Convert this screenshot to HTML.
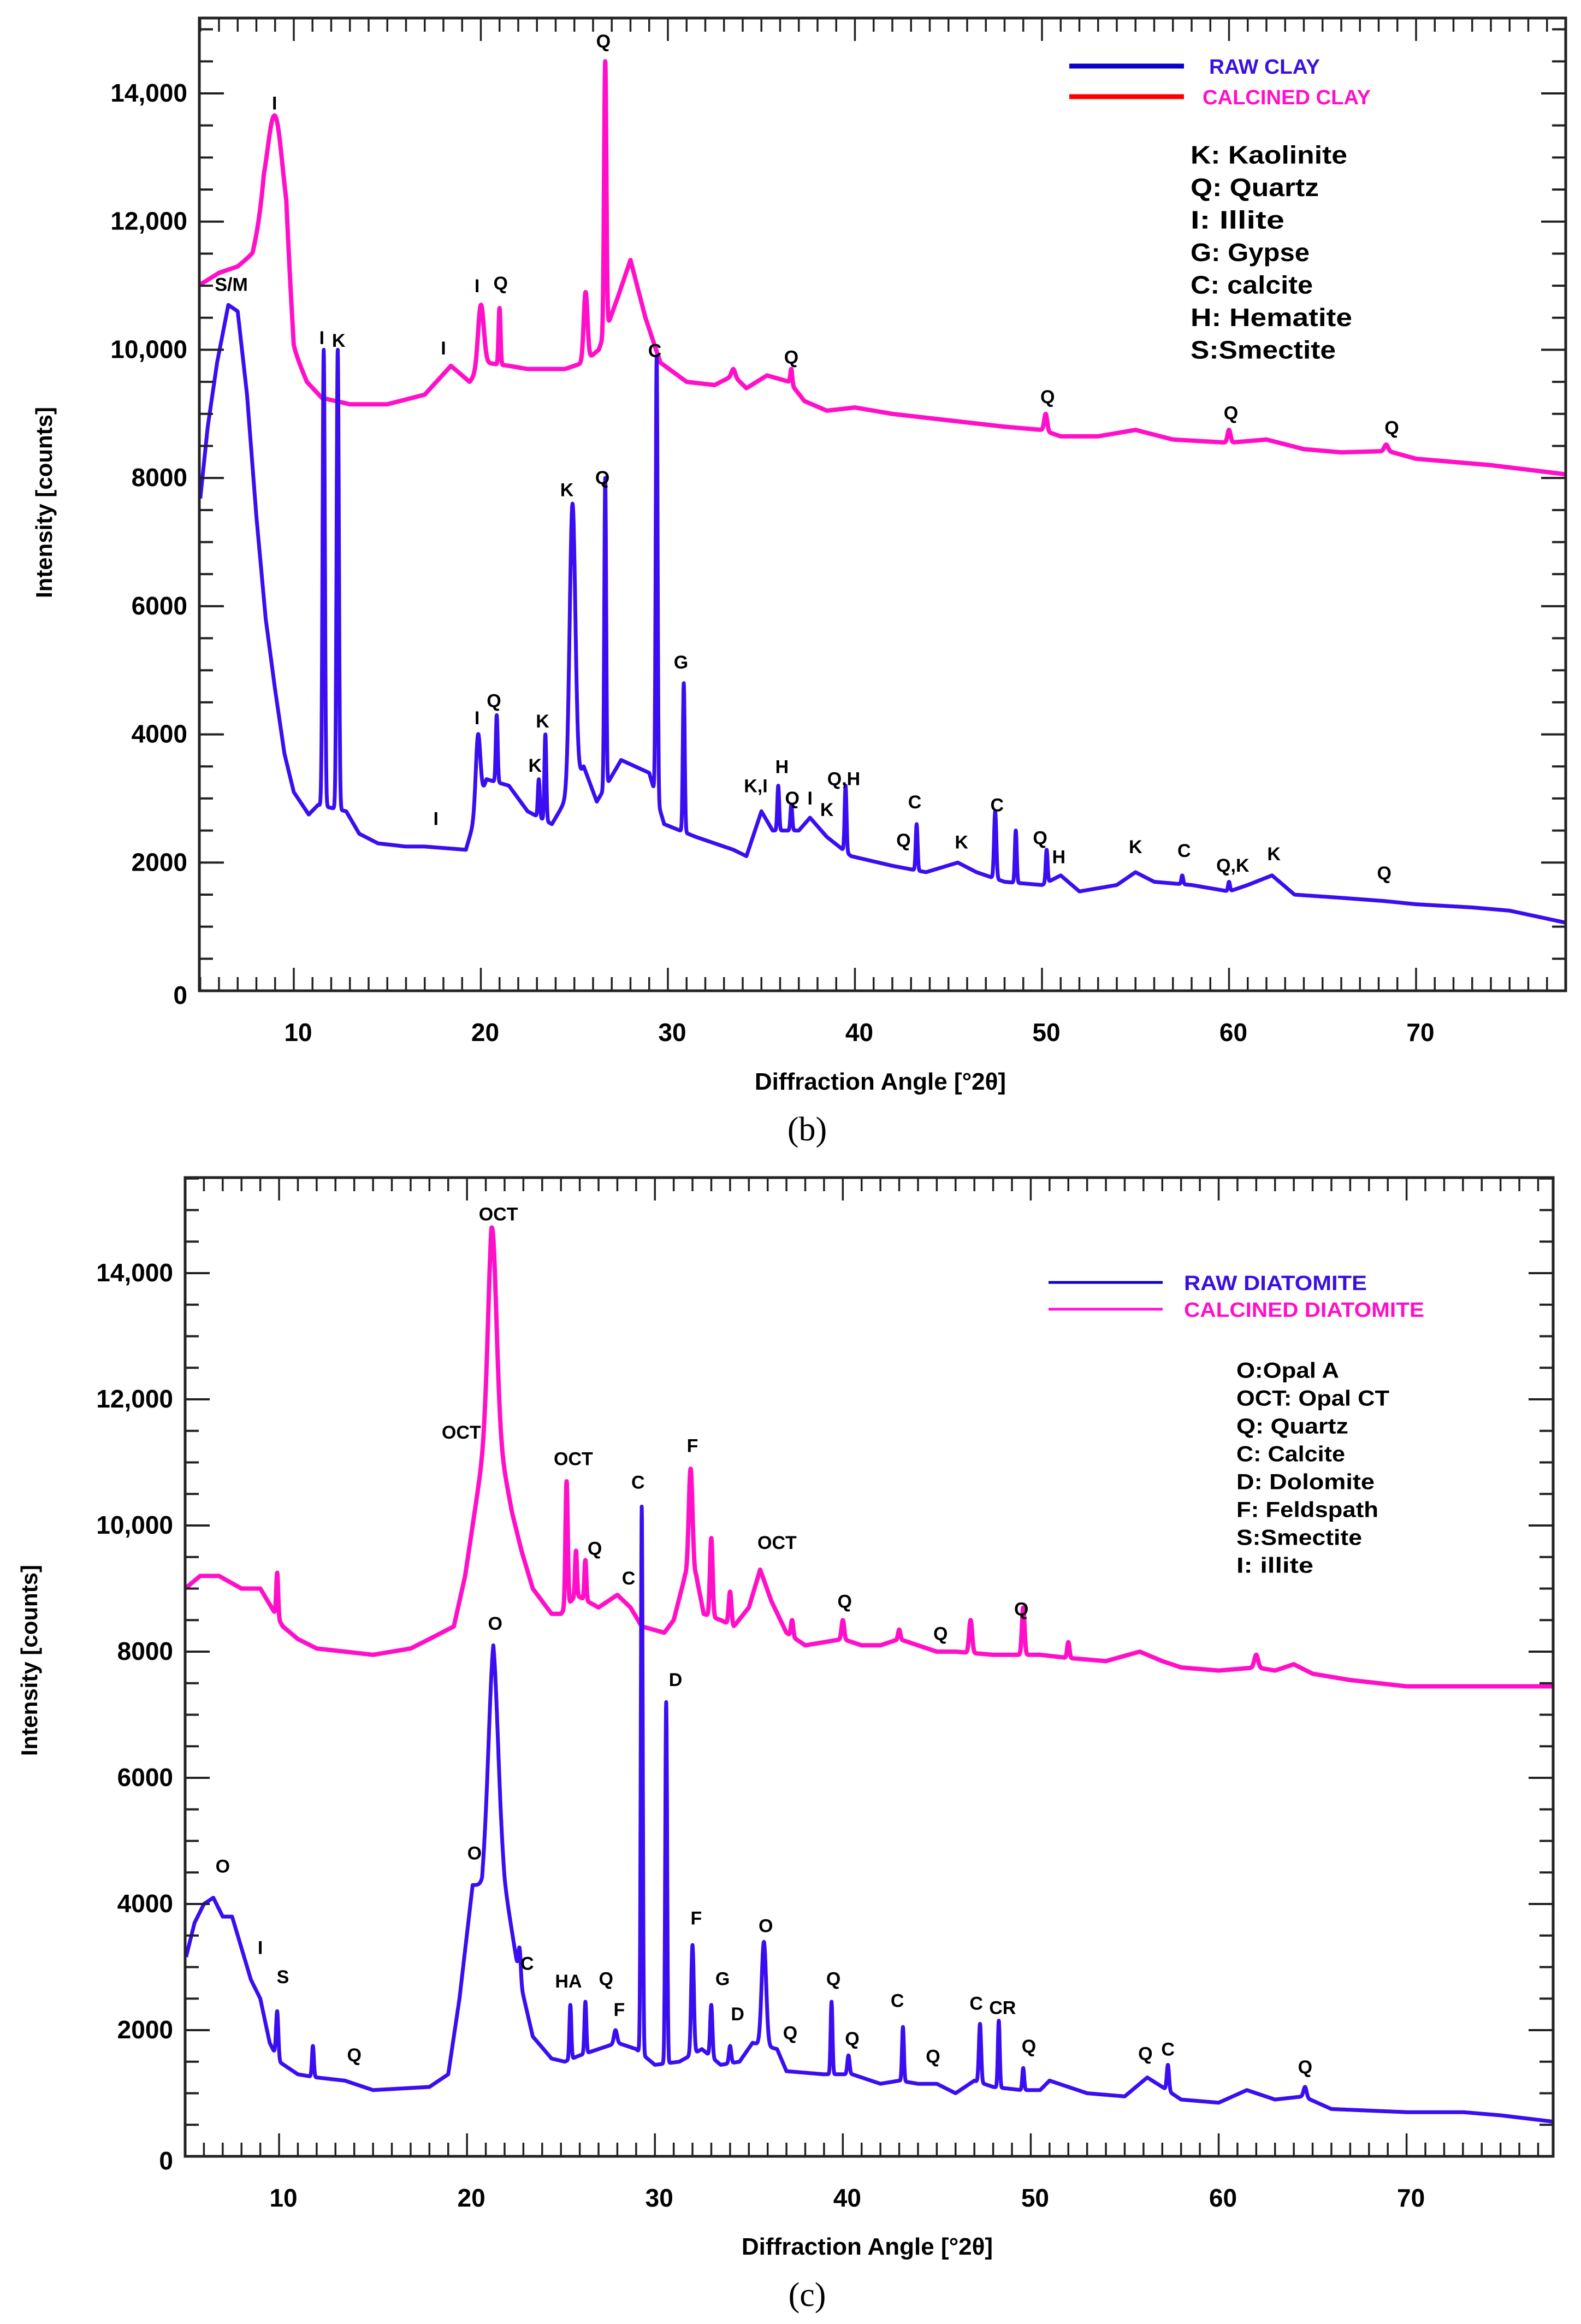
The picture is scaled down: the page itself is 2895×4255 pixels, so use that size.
<!DOCTYPE html>
<html><head><meta charset="utf-8"><title>XRD patterns</title>
<style>html,body{margin:0;padding:0;background:#fff}svg{display:block}</style></head>
<body>
<svg id="fig" xmlns="http://www.w3.org/2000/svg" width="2895" height="4255" viewBox="0 0 2895 4255" font-family="'Liberation Sans', sans-serif">
<rect width="2895" height="4255" fill="#fff"/>
</svg>
<script>
// ===== Chart (b) data: clay =====
const clayRawBg = [[4.9,7400],[5.4,8800],[5.9,9800],[6.5,10700],[7.0,10600],[7.5,9300],[8.0,7400],[8.5,5800],[9.0,4700],[9.5,3700],[10.0,3100],[10.8,2750],[11.3,2900],[12.8,2800],[13.5,2450],[14.5,2300],[16,2250],[17,2250],[19.2,2200],[19.6,2600],[20.3,3300],[21.5,3200],[22.5,2800],[23.8,2600],[24.2,2800],[25.5,3500],[26.2,2950],[27.5,3600],[29.0,3400],[29.8,2600],[31.5,2400],[32.5,2300],[33.5,2200],[34.2,2100],[35.0,2800],[35.6,2500],[37.0,2500],[37.6,2700],[38.5,2400],[39.8,2100],[42,1950],[43.8,1850],[45.5,2000],[46.5,1850],[48,1700],[50,1650],[51,1800],[52,1550],[54,1650],[55,1850],[56,1700],[58,1650],[60,1550],[61,1650],[62.3,1800],[63.5,1500],[66,1450],[68.3,1400],[70,1350],[73,1300],[75,1250],[78.2,1050]];
const clayRawPeaks = [[11.6,10000,0.06],[12.35,10000,0.06],[19.85,4000,0.12],[20.85,4300,0.05],[23.1,3300,0.05],[23.45,4000,0.05],[24.9,7600,0.15],[26.65,8000,0.05],[29.4,9900,0.05],[30.85,4800,0.05],[35.9,3200,0.05],[36.6,2900,0.05],[39.5,3200,0.05],[43.3,2600,0.05],[47.5,2800,0.06],[48.6,2500,0.05],[50.25,2200,0.05],[57.5,1800,0.05],[60.0,1700,0.05]];
const clayCalBg = [[4.9,11000],[6,11200],[7,11300],[7.8,11500],[8.4,12200],[9.6,11800],[10,10000],[10.7,9500],[11.5,9250],[13,9150],[15,9150],[17,9300],[18.4,9750],[19.4,9500],[20.2,9800],[21.5,9750],[22.5,9700],[24.5,9700],[25.5,9800],[26.3,10000],[27.3,10800],[28.0,11400],[28.8,10500],[29.6,9800],[31,9500],[32.5,9450],[33.5,9600],[34.2,9400],[35.3,9600],[36.5,9500],[37.3,9200],[38.5,9050],[40,9100],[42,9000],[45,8900],[48,8800],[50,8750],[51,8650],[53,8650],[55,8750],[57,8600],[60,8550],[62,8600],[64,8450],[66,8400],[68.5,8420],[70,8300],[74,8200],[78.2,8050]];
const clayCalPeaks = [[9.0,13650,0.4],[20.0,10700,0.15],[21.0,10650,0.05],[25.6,10900,0.1],[26.65,14500,0.06],[33.5,9700,0.1],[36.6,9700,0.05],[50.2,9000,0.08],[60.0,8750,0.08],[68.4,8520,0.1]];
const clayYTicks = [0,2000,4000,6000,8000,10000,12000,14000];
const clayYLabels = ["0","2000","4000","6000","8000","10,000","12,000","14,000"];
const clayXTicks = [10,20,30,40,50,60,70];
const clayNotes = [[26.55,14820,"Q"],[8.97,13850,"I"],[6.66,11020,"S/M"],[19.8,11000,"I"],[21.06,11045,"Q"],[11.5,10190,"I"],[12.4,10150,"K"],[18.0,10030,"I"],[29.3,9990,"C"],[36.6,9890,"Q"],[50.3,9270,"Q"],[60.1,9020,"Q"],[68.7,8790,"Q"],[24.6,7820,"K"],[26.5,8010,"Q"],[30.7,5130,"G"],[19.8,4260,"I"],[20.7,4530,"Q"],[23.3,4210,"K"],[22.9,3520,"K"],[34.7,3200,"K,I"],[36.1,3500,"H"],[36.65,3010,"Q"],[37.6,3010,"I"],[38.5,2830,"K"],[39.4,3310,"Q,H"],[43.2,2950,"C"],[47.6,2900,"C"],[42.6,2350,"Q"],[45.7,2320,"K"],[49.9,2390,"Q"],[50.9,2090,"H"],[55.0,2250,"K"],[57.6,2190,"C"],[60.2,1960,"Q,K"],[62.4,2140,"K"],[68.3,1840,"Q"],[17.6,2690,"I"]];

// ===== Chart (c) data: diatomite =====
const diaRawBg = [[5.0,3100],[5.5,3700],[6.0,4000],[6.5,4100],[7.0,3800],[7.5,3800],[8.0,3300],[8.5,2800],[9.0,2500],[9.5,1800],[10.0,1500],[11,1300],[12,1250],[13.5,1200],[15,1050],[18,1100],[19,1300],[19.6,2500],[20.3,4300],[20.8,4300],[21.4,6000],[22.0,4300],[22.8,2800],[23.5,1900],[24.5,1550],[25.2,1500],[26,1600],[27,1700],[28,1800],[29,1700],[30,1450],[31.3,1500],[32.5,1700],[33.5,1450],[34.5,1500],[35.2,1800],[36.5,1700],[37,1350],[39,1300],[40.5,1300],[42,1150],[43,1200],[44,1150],[45,1150],[46,1000],[47,1200],[48,1100],[49.5,1050],[50.5,1050],[51,1200],[53,1000],[55,950],[56.2,1250],[57,1100],[58,900],[60,850],[61.5,1050],[63,900],[64.5,950],[66,750],[70,700],[73,700],[75,650],[77.8,550]];
const diaRawPeaks = [[21.4,8100,0.25],[22.8,3300,0.06],[9.9,2300,0.06],[11.8,1750,0.05],[25.5,2400,0.05],[26.3,2450,0.05],[27.9,2000,0.08],[29.3,10300,0.05],[30.6,7200,0.05],[32.0,3350,0.07],[33.0,2400,0.06],[34.0,1750,0.06],[35.8,3400,0.12],[39.4,2450,0.05],[40.3,1600,0.06],[43.2,2050,0.05],[47.3,2100,0.06],[48.3,2150,0.05],[49.6,1400,0.05],[57.3,1450,0.06],[64.6,1100,0.08]];
const diaCalBg = [[5.0,9000],[5.8,9200],[6.8,9200],[8,9000],[9,9000],[9.6,8700],[10.2,8400],[11,8200],[12,8050],[15,7950],[17,8050],[18,8200],[19.3,8400],[19.9,9200],[20.3,10000],[20.8,11000],[21.3,12000],[21.9,11000],[22.4,10200],[22.9,9600],[23.5,9000],[24.5,8600],[25,8600],[25.8,8900],[27,8700],[28,8900],[28.7,8700],[29.3,8400],[30.5,8300],[31.0,8500],[31.6,9200],[32.2,9200],[32.6,8600],[33.5,8500],[34.2,8400],[35.0,8700],[35.6,9300],[36.2,8800],[37,8300],[38,8100],[40,8200],[41,8100],[42,8100],[43,8200],[44,8100],[45,8000],[46,8000],[48,7950],[50.5,7950],[52,7900],[54,7850],[55.8,8000],[57,7850],[58,7750],[60,7700],[62,7750],[63,7700],[64,7800],[65,7650],[67,7550],[70,7450],[73,7450],[75,7450],[77.8,7450]];
const diaCalPeaks = [[21.35,14700,0.22],[9.9,9250,0.05],[25.3,10700,0.06],[25.8,9600,0.05],[26.3,9450,0.05],[31.9,10900,0.1],[33.0,9800,0.07],[34.0,8950,0.07],[37.3,8500,0.06],[40.0,8500,0.07],[43.0,8350,0.06],[46.8,8500,0.08],[49.6,8700,0.07],[52.0,8150,0.06],[62.0,7950,0.1]];
const diaYTicks = [0,2000,4000,6000,8000,10000,12000,14000];
const diaYLabels = ["0","2000","4000","6000","8000","10,000","12,000","14,000"];
const diaXTicks = [10,20,30,40,50,60,70];
const diaNotes = [[21.67,14940,"OCT"],[19.7,11480,"OCT"],[25.66,11060,"OCT"],[26.8,9640,"Q"],[29.1,10690,"C"],[28.6,9170,"C"],[32.0,11270,"F"],[36.5,9730,"OCT"],[40.1,8800,"Q"],[45.2,8290,"Q"],[49.5,8680,"Q"],[21.5,8450,"O"],[31.1,7560,"D"],[7.0,4600,"O"],[9.0,3310,"I"],[10.2,2850,"S"],[14.0,1610,"Q"],[20.4,4810,"O"],[23.2,3060,"C"],[25.4,2780,"HA"],[27.4,2820,"Q"],[28.1,2330,"F"],[32.2,3780,"F"],[35.9,3660,"O"],[33.6,2820,"G"],[34.4,2260,"D"],[37.2,1960,"Q"],[39.5,2820,"Q"],[40.5,1870,"Q"],[42.9,2470,"C"],[44.8,1590,"Q"],[47.1,2430,"C"],[48.5,2360,"CR"],[49.9,1750,"Q"],[56.1,1630,"Q"],[57.3,1700,"C"],[64.6,1420,"Q"]];

const NS = "http://www.w3.org/2000/svg";
const svg = document.getElementById("fig");
function mk(tag, attrs, parent){ const e=document.createElementNS(NS,tag); for(const k in attrs) e.setAttribute(k,attrs[k]); (parent||svg).appendChild(e); return e; }

function bgAt(bg, x){
  if(x<=bg[0][0]) return bg[0][1];
  for(let i=1;i<bg.length;i++){ if(x<=bg[i][0]){ const a=bg[i-1],b=bg[i]; return a[1]+(b[1]-a[1])*(x-a[0])/(b[0]-a[0]); } }
  return bg[bg.length-1][1];
}
function seriesPath(bg, peaks, xs, ys, x0, x1){
  const amps = peaks.map(p=>p[1]-bgAt(bg,p[0]));
  let d="";
  for(let x=x0; x<=x1+1e-9; x+=0.01){
    let v=bgAt(bg,x);
    peaks.forEach((p,i)=>{ const t=(x-p[0])/p[2]; if(Math.abs(t)<6) v+=amps[i]*Math.exp(-0.5*t*t); });
    d+=(d?"L":"M")+xs(x).toFixed(1)+","+ys(v).toFixed(1);
  }
  return d;
}

function drawChart(cfg){
  const g = mk("g",{});
  
  
  const xs = v => cfg.L + (v-cfg.xmin)/(cfg.xmax-cfg.xmin)*(cfg.R-cfg.L);
  const ys = v => cfg.y0 + (v)/(14000)*(cfg.y14-cfg.y0);
  const c = mk("path",{d:seriesPath(cfg.calBg,cfg.calPeaks,xs,ys,cfg.xmin+0.05,cfg.xmax-0.05),fill:"none",stroke:"#ff10c8","stroke-width":8,"stroke-linejoin":"round"},g);
  
  
  const r = mk("path",{d:seriesPath(cfg.rawBg,cfg.rawPeaks,xs,ys,cfg.xmin+0.05,cfg.xmax-0.05),fill:"none",stroke:"#3a0ef0","stroke-width":7,"stroke-linejoin":"round"},g);
  
  
  const fr = mk("rect",{x:cfg.L,y:cfg.T,width:cfg.R-cfg.L,height:cfg.B-cfg.T,fill:"none",stroke:"#222","stroke-width":5},g);
  
  
  for(let a=Math.ceil(cfg.xmin); a<=cfg.xmax; a++){
    const x=xs(a), big=(a%10===0), len=big?42:25;
    mk("line",{x1:x,y1:cfg.B,x2:x,y2:cfg.B-len,stroke:"#222","stroke-width":3.5},g);
    mk("line",{x1:x,y1:cfg.T,x2:x,y2:cfg.T+len,stroke:"#222","stroke-width":3.5},g);
  }
  for(let v=500; v<=cfg.ymaxTick; v+=500){
    const y=ys(v), big=(v%2000===0), len=big?45:25;
    mk("line",{x1:cfg.L,y1:y,x2:cfg.L+len,y2:y,stroke:"#222","stroke-width":4},g);
    mk("line",{x1:cfg.R,y1:y,x2:cfg.R-len,y2:y,stroke:"#222","stroke-width":4},g);
  }
  cfg.yTicks.forEach((v,i)=>{
    const t = mk("text",{x:cfg.L-22,y:ys(v)+(v===0?24:15),"text-anchor":"end","font-size":46,"font-weight":"bold",fill:"#000"},g);
    t.textContent = cfg.yLabels[i];
    
    
  });
  cfg.xTicks.forEach(v=>{
    const t = mk("text",{x:xs(v)+8,y:cfg.B+92,"text-anchor":"middle","font-size":46,"font-weight":"bold",fill:"#000"},g);
    t.textContent = String(v);
    
    
  });
  cfg.notes.forEach(n=>{
    const t = mk("text",{x:xs(n[0]),y:ys(n[1])+12,"text-anchor":"middle","font-size":34,"font-weight":"bold",fill:"#000"},g);
    t.textContent = n[2];
    
    
  });
  const yt = mk("text",{x:0,y:0,"text-anchor":"middle","font-size":42,"font-weight":"bold",fill:"#000",transform:`translate(${cfg.ytX},${cfg.ytY}) rotate(-90)`},g);
  yt.textContent = "Intensity [counts]";
  
  
  const xt = mk("text",{x:cfg.xtX,y:cfg.xtY,"text-anchor":"middle","font-size":44,"font-weight":"bold",fill:"#000"},g);
  xt.textContent = "Diffraction Angle [°2θ]";
  
  
  const lg = mk("g",{},g);
  
  
  mk("line",{x1:cfg.leg.x1,y1:cfg.leg.y1,x2:cfg.leg.x2,y2:cfg.leg.y1,stroke:"#0a00cc","stroke-width":cfg.leg.w},lg);
  mk("line",{x1:cfg.leg.x1,y1:cfg.leg.y2,x2:cfg.leg.x2,y2:cfg.leg.y2,stroke:cfg.leg.c2,"stroke-width":cfg.leg.w},lg);
  const t1 = mk("text",{x:cfg.leg.tx1,y:cfg.leg.y1+14,"font-size":38,"font-weight":"bold",fill:"#3a10e0",textLength:cfg.leg.l1,lengthAdjust:"spacingAndGlyphs"},lg);
  t1.textContent = cfg.leg.n1;
  
  
  const t2 = mk("text",{x:cfg.leg.tx2,y:cfg.leg.y2+14,"font-size":38,"font-weight":"bold",fill:"#ff10c8",textLength:cfg.leg.l2,lengthAdjust:"spacingAndGlyphs"},lg);
  t2.textContent = cfg.leg.n2;
  
  
  cfg.key.items.forEach((s,i)=>{
    const t = mk("text",{x:cfg.key.x,y:cfg.key.y+i*cfg.key.dy+cfg.key.fs*0.36,"font-size":cfg.key.fs,"font-weight":"bold",fill:"#000",textLength:cfg.key.lens[i],lengthAdjust:"spacingAndGlyphs"},lg);
    t.textContent = s;
    
    
  });
}

drawChart({name:"chart-b-clay",L:365,R:2867,T:33,B:1814,xmin:4.95,xmax:78.0,y0:1814,y14:171,ymaxTick:15000,
  rawBg:clayRawBg,rawPeaks:clayRawPeaks,calBg:clayCalBg,calPeaks:clayCalPeaks,
  yTicks:clayYTicks,yLabels:clayYLabels,xTicks:clayXTicks,notes:clayNotes,
  ytX:95,ytY:920,xtX:1612,xtY:1995,
  leg:{x1:1958,x2:2168,y1:121,y2:177,w:9,c2:"#ff0000",tx1:2214,tx2:2202,n1:"RAW CLAY",n2:"CALCINED CLAY",l1:203,l2:308},
  key:{x:2180,y:283,dy:59.5,fs:46,lens:[287,235,172,218,224,296,266],items:["K: Kaolinite","Q: Quartz","I: Illite","G: Gypse","C: calcite","H: Hematite","S:Smectite"]}
});
drawChart({name:"chart-c-diatomite",L:339,R:2844,T:2156,B:3948,xmin:5.0,xmax:77.8,y0:3948,y14:2331,ymaxTick:15500,
  rawBg:diaRawBg,rawPeaks:diaRawPeaks,calBg:diaCalBg,calPeaks:diaCalPeaks,
  yTicks:diaYTicks,yLabels:diaYLabels,xTicks:diaXTicks,notes:diaNotes,
  ytX:68,ytY:3040,xtX:1588,xtY:4128,
  leg:{x1:1920,x2:2129,y1:2348,y2:2397,w:5,c2:"#ff10e0",tx1:2168,tx2:2168,n1:"RAW DIATOMITE",n2:"CALCINED DIATOMITE",l1:335,l2:440},
  key:{x:2264,y:2508,dy:51,fs:40,lens:[188,280,205,199,253,260,230,141],items:["O:Opal A","OCT: Opal CT","Q: Quartz","C: Calcite","D: Dolomite","F: Feldspath","S:Smectite","I: illite"]}
});

const cb = mk("text",{x:1478,y:2088,"text-anchor":"middle","font-size":62,"font-family":"'Liberation Serif', serif",fill:"#000"});
cb.textContent="(b)";


const cc = mk("text",{x:1478,y:4222,"text-anchor":"middle","font-size":62,"font-family":"'Liberation Serif', serif",fill:"#000"});
cc.textContent="(c)";


</script>
</body></html>
